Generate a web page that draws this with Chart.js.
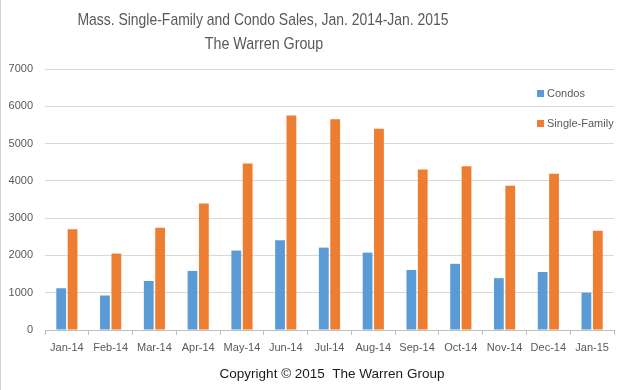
<!DOCTYPE html>
<html>
<head>
<meta charset="utf-8">
<title>Mass. Single-Family and Condo Sales</title>
<script src="https://cdn.jsdelivr.net/npm/chart.js@4.4.1/dist/chart.umd.min.js"></script>
<style>
    html, body { margin: 0; padding: 0; background: #ffffff; }
    #wrap { position: relative; width: 628px; height: 390px; }
</style>
</head>
<body>
<div id="wrap"><canvas id="salesChart" width="628" height="390"></canvas></div>
<script>
// Monthly sales
const months = ['Jan-14', 'Feb-14', 'Mar-14', 'Apr-14', 'May-14', 'Jun-14', 'Jul-14',
                'Aug-14', 'Sep-14', 'Oct-14', 'Nov-14', 'Dec-14', 'Jan-15'];
const condos = [1120, 925, 1315, 1585, 2130, 2410, 2210, 2075, 1610, 1775, 1390, 1555, 1000];
const singleFamily = [2705, 2050, 2740, 3395, 4465, 5755, 5650, 5400, 4305, 4390, 3870, 4190, 2660];
const seriesNames = ['Condos', 'Single-Family'];
const seriesColors = ['#5b9bd5', '#ed7d31'];
const yTicks = [0, 1000, 2000, 3000, 4000, 5000, 6000, 7000];
const titleLines = ['Mass. Single-Family and Condo Sales, Jan. 2014-Jan. 2015', 'The Warren Group'];
const footerText = 'Copyright \u00a9 2015  The Warren Group';

(function() {
    'use strict';

    const fontFamily = '"Liberation Sans", Arial, sans-serif';

    // draw text squeezed horizontally (the original uses a narrow font)
    function narrowText(ctx, text, x, y, squeeze) {
        ctx.save();
        ctx.translate(x, y);
        ctx.scale(squeeze, 1);
        ctx.fillText(text, 0, 0);
        ctx.restore();
    }

    // Title, legend box and footer drawn straight onto the canvas
    const decorations = {
        id: 'decorations',
        afterDraw(chart) {
            const ctx = chart.ctx;
            ctx.save();

            // thin frame line on the left edge
            ctx.strokeStyle = '#d0d0d0';
            ctx.lineWidth = 1;
            ctx.beginPath();
            ctx.moveTo(0.5, 0);
            ctx.lineTo(0.5, chart.height);
            ctx.stroke();

            // title
            ctx.fillStyle = '#595959';
            ctx.textAlign = 'center';
            ctx.textBaseline = 'middle';
            ctx.font = '17px ' + fontFamily;
            narrowText(ctx, titleLines[0], 263, 20, 0.82);
            narrowText(ctx, titleLines[1], 264, 44, 0.84);

            // legend inside the plot, top right
            ctx.textAlign = 'left';
            ctx.font = '11px ' + fontFamily;
            seriesNames.forEach((name, i) => {
                const y = 93 + i * 30;
                ctx.fillStyle = seriesColors[i];
                ctx.fillRect(537, y - 3, 7, 7);
                ctx.fillStyle = '#595959';
                ctx.fillText(name, 547, y + 1);
            });

            // footer
            ctx.fillStyle = '#1a1a1a';
            ctx.textAlign = 'center';
            ctx.font = '13.5px ' + fontFamily;
            ctx.fillText(footerText, 332, 374);

            ctx.restore();
        }
    };

    function init() {
        const ctx = document.getElementById('salesChart');

        new Chart(ctx, {
            type: 'bar',
            data: {
                labels: months,
                datasets: [{
                    label: seriesNames[0],
                    data: condos,
                    backgroundColor: seriesColors[0],
                    categoryPercentage: 0.52,
                    barPercentage: 0.86
                }, {
                    label: seriesNames[1],
                    data: singleFamily,
                    backgroundColor: seriesColors[1],
                    categoryPercentage: 0.52,
                    barPercentage: 0.86
                }]
            },
            options: {
                responsive: false,
                animation: false,
                layout: {
                    padding: { left: 0, right: 14, top: 69, bottom: 0 }
                },
                plugins: {
                    legend: { display: false },
                    title: { display: false },
                    tooltip: { enabled: false }
                },
                scales: {
                    x: {
                        grid: {
                            offset: true,
                            drawOnChartArea: false,
                            color: '#bfbfbf',
                            tickLength: 5
                        },
                        border: { color: '#bfbfbf' },
                        ticks: {
                            color: '#595959',
                            padding: 6,
                            maxRotation: 0,
                            autoSkip: false,
                            font: { family: fontFamily, size: 11 }
                        },
                        afterFit: function(scale) {
                            scale.height = 60;
                        }
                    },
                    y: {
                        min: 0,
                        max: 7000,
                        afterBuildTicks: function(scale) {
                            scale.ticks = yTicks.map(v => ({ value: v }));
                        },
                        grid: {
                            color: '#d9d9d9',
                            drawTicks: false
                        },
                        border: { display: false },
                        ticks: {
                            color: '#595959',
                            padding: 12,
                            font: { family: fontFamily, size: 11 },
                            callback: function(value) {
                                return String(value);
                            }
                        },
                        afterFit: function(scale) {
                            scale.width = 45;
                        }
                    }
                }
            },
            plugins: [decorations]
        });
    }

    document.addEventListener('DOMContentLoaded', init);
})();
</script>
</body>
</html>
